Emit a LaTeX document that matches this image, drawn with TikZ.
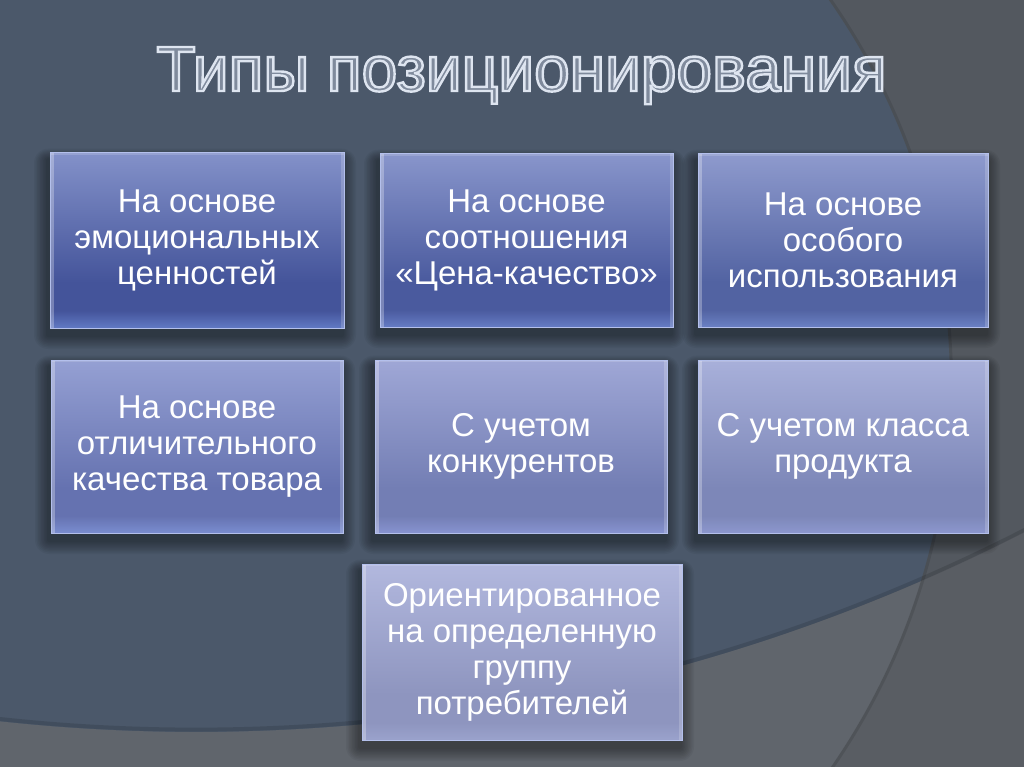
\documentclass[tikz,border=0pt]{standalone}
\usepackage{fontspec}
\setmainfont{Liberation Sans}
\usetikzlibrary{calc}
\pgfdeclarelayer{back}
\pgfdeclarelayer{shadow}
\pgfsetlayers{back,shadow,main}

\definecolor{bgbase}{HTML}{4B586A}
\definecolor{bgright}{HTML}{53585F}
\definecolor{bglow}{HTML}{60656C}
\definecolor{bglowright}{HTML}{595D63}
\definecolor{titlefill}{HTML}{7F8A9C}
\definecolor{boxedge}{HTML}{B4C0EC}

\newcommand\mkshade[4]{%
 \definecolor{#1t}{HTML}{#2}\definecolor{#1m}{HTML}{#3}\definecolor{#1b}{HTML}{#4}%
 \pgfdeclareverticalshading{#1}{100bp}{color(0bp)=(#1b); color(25bp)=(#1b); color(30bp)=(#1m); color(38bp)=(#1m); color(75bp)=(#1t); color(100bp)=(#1t)}}
\mkshade{shA}{8391C9}{44549A}{6179C4}
\mkshade{shB}{8895CB}{4A5A9E}{657CC4}
\mkshade{shC}{8E9ACD}{5263A2}{6A80C4}
\mkshade{shD}{95A0D3}{6572B0}{7A8DD0}
\mkshade{shE}{9FA7D6}{737EB4}{8793D0}
\mkshade{shF}{A8B0DA}{7D87B8}{8C97CE}
\mkshade{shG}{B2B8DE}{8E95BF}{9AA2CC}

% outlined text: fill + stroke (text render mode 2)
\newcommand\outlinedtext[1]{\special{pdf:literal direct 2 Tr 2.4 w 0.87 0.90 0.94 RG}#1\special{pdf:literal direct 0 Tr}}

\tikzset{
 box/.style={rectangle, inner sep=0pt, shade, draw=boxedge, line width=1pt,
   text=white, align=center, font=\fontsize{33}{36}\selectfont,
   path picture={
     \fill[white,opacity=.28] (path picture bounding box.north west) rectangle ([xshift=3.5pt]path picture bounding box.south west);
     \fill[white,opacity=.18] (path picture bounding box.north east) rectangle ([xshift=-3pt]path picture bounding box.south east);
     \fill[white,opacity=.15] (path picture bounding box.north west) rectangle ([yshift=-2pt]path picture bounding box.north east);
   }},
 ttl/.style={anchor=base, inner sep=0pt, font=\fontsize{64}{70}\selectfont, text=titlefill},
 shd/.style={black, opacity=.045}
}

\begin{document}
\begin{tikzpicture}[x=1pt,y=-1pt]
\useasboundingbox (0,0) rectangle (1024,767);

% background
\begin{pgfonlayer}{back}
\fill[bgbase] (0,0) rectangle (1024,767);
\begin{scope}
 \clip (0,0) rectangle (1024,767);
 \fill[bgright, even odd rule] (-10,-10) rectangle (1034,777) (278,385) circle[radius=672];
 \fill[bglow] (0,777) -- (0,721.4) arc[start angle=96.2, end angle=62.87, radius=1816] -- (1034,777) -- cycle;
 \begin{scope}
  \clip (0,777) -- (0,721.4) arc[start angle=96.2, end angle=62.87, radius=1816] -- (1034,777) -- cycle;
  \fill[bglowright, even odd rule] (-10,-10) rectangle (1034,777) (278,385) circle[radius=672];
 \end{scope}
 \draw[black, opacity=.10, line width=3pt] (278,385) circle[radius=673.5];
 \draw[black, opacity=.12, line width=4pt] (0,719) arc[start angle=96.2, end angle=62.87, radius=1818];
\end{scope}
\end{pgfonlayer}

% title
\node[ttl] (title) at (521.5,91) {\outlinedtext{Типы позиционирования}};

% boxes
\node[box, shading=shA, minimum width=294pt, minimum height=175pt] (b1) at (197,240.5) {На основе\\эмоциональных\\ценностей};
\node[box, shading=shB, minimum width=293pt, minimum height=173pt] (b2) at (526.5,240.5) {На основе\\соотношения\\«Цена-качество»};
\node[box, shading=shC, minimum width=290pt, minimum height=173pt] (b3) at (843,240.5) {На основе\\особого\\использования};
\node[box, shading=shD, minimum width=292pt, minimum height=173pt] (b4) at (197,446.5) {На основе\\отличительного\\качества товара};
\node[box, shading=shE, minimum width=292pt, minimum height=173pt] (b5) at (521,446.5) {С учетом\\конкурентов};
\node[box, shading=shF, minimum width=290pt, minimum height=173pt] (b6) at (843,446.5) {С учетом класса\\продукта};
\node[box, shading=shG, minimum width=320pt, minimum height=176pt] (b7) at (522,652) {Ориентированное\\на определенную\\группу\\потребителей};

% shadows
\begin{pgfonlayer}{shadow}
\foreach \n in {b1,b2,b3,b4,b5,b6,b7}{
  \foreach \i in {1,...,9}{
    \fill[shd, rounded corners=\i*1.6pt] ([shift={(-\i*1.5-2,-\i*1.2+7)}]\n.north west) rectangle ([shift={(\i*1.5-2,\i*1.5+7)}]\n.south east);
  }}
\end{pgfonlayer}
\end{tikzpicture}
\end{document}
